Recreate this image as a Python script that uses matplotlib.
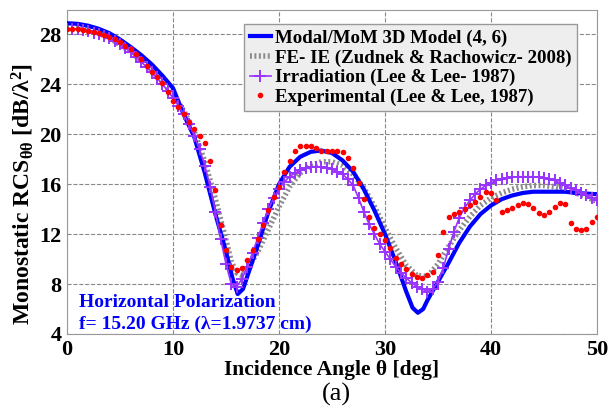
import matplotlib
matplotlib.use("Agg")
import matplotlib.pyplot as plt

plt.rcParams["font.family"] = ["Liberation Serif", "DejaVu Serif"]
plt.rcParams["font.weight"] = "bold"
plt.rcParams["axes.labelweight"] = "bold"
plt.rcParams["mathtext.fontset"] = "custom"
plt.rcParams["mathtext.rm"] = "Liberation Serif:bold"
plt.rcParams["mathtext.it"] = "Liberation Serif:bold"
plt.rcParams["mathtext.bf"] = "Liberation Serif:bold"

# Modal/MoM 3D model
modal_angle = [0, 1, 2, 3, 4, 5, 6, 7, 8, 9, 10, 11, 12, 13, 14, 15, 15.6, 16.1, 16.6,
               17, 18, 19, 20, 21, 22, 23, 24, 25, 26, 27, 28, 29, 30, 31, 32, 32.6,
               33.1, 33.6, 34, 35, 36, 37, 38, 39, 40, 41, 42, 43, 44, 45, 46, 47, 48,
               49, 50]
modal_rcs = [28.9, 28.85, 28.7, 28.45, 28.1, 27.6, 27.0, 26.35, 25.6, 24.7, 23.7, 21.6,
             19.8, 16.9, 13.6, 10.6, 8.5, 7.2, 7.6, 8.6, 11.1, 13.8, 16.0, 17.4, 18.2,
             18.6, 18.7, 18.5, 17.9, 17.0, 15.6, 13.9, 12.0, 9.8, 7.4, 6.1, 5.7, 6.0,
             6.7, 8.2, 9.7, 11.3, 12.6, 13.6, 14.3, 14.8, 15.1, 15.3, 15.4, 15.4, 15.4,
             15.4, 15.3, 15.25, 15.2]

# FE-IE (Zudnek & Rachowicz 2008)
feie_angle = [0, 1, 2, 3, 4, 5, 6, 7, 8, 9, 10, 11, 12, 13, 14, 15, 15.5, 16, 16.5, 17,
              18, 19, 20, 21, 22, 23, 24, 25, 26, 27, 28, 29, 30, 31, 32, 33, 34, 35,
              36, 37, 38, 39, 40, 41, 42, 43, 44, 45, 46, 47, 48, 49, 50]
feie_rcs = [28.6, 28.55, 28.4, 28.1, 27.7, 27.2, 26.6, 25.9, 25.1, 24.2, 23.2, 21.9, 20.2,
            17.8, 14.8, 11.5, 9.8, 8.9, 8.7, 9.2, 10.6, 12.4, 14.2, 15.8, 16.9, 17.5,
            17.8, 17.8, 17.5, 16.8, 15.7, 14.2, 12.5, 10.9, 9.5, 8.7, 8.6, 9.6, 11.0,
            12.3, 13.4, 14.3, 14.9, 15.3, 15.6, 15.8, 15.9, 15.9, 15.8, 15.6, 15.3,
            15.0, 14.6]

# Irradiation (Lee & Lee 1987), every 0.5 deg
irr_angle = [i * 0.5 for i in range(101)]
irr_rcs = [28.4, 28.4, 28.4, 28.35, 28.3, 28.15, 28.0, 27.85, 27.7, 27.5, 27.2, 26.9,
           26.6, 26.2, 25.8, 25.4, 25.0, 24.5, 24.0, 23.5, 22.9, 22.3, 21.6, 20.8, 19.9,
           18.8, 17.5, 15.8, 13.8, 11.6, 9.6, 8.0, 7.8, 8.4, 9.4, 10.5, 11.7, 12.9, 14.0,
           14.9, 15.6, 16.2, 16.6, 16.9, 17.1, 17.3, 17.4, 17.4, 17.4, 17.3, 17.2, 17.0,
           16.8, 16.4, 15.9, 14.9, 13.8, 12.8, 12.0, 11.2, 10.6, 10.0, 9.4, 8.9, 8.5,
           8.1, 7.8, 7.6, 7.4, 7.6, 8.2, 9.3, 10.8, 12.2, 13.3, 14.1, 14.7, 15.2, 15.6,
           15.9, 16.1, 16.3, 16.4, 16.5, 16.55, 16.6, 16.6, 16.6, 16.6, 16.55, 16.5,
           16.4, 16.3, 16.1, 15.9, 15.7, 15.5, 15.3, 15.1, 14.9, 14.7]

# Experimental (Lee & Lee 1987), every 0.5 deg
exp_angle = [i * 0.5 for i in range(101)]
exp_rcs = [28.4, 28.4, 28.4, 28.35, 28.3, 28.2, 28.1, 27.95, 27.8, 27.6, 27.4, 27.1,
           26.8, 26.4, 26.0, 25.5, 25.0, 24.6, 24.1, 23.4, 22.7, 22.2, 21.6, 21.0, 20.4,
           19.9, 19.3, 17.9, 15.5, 12.7, 10.7, 9.4, 9.1, 9.3, 9.9, 10.7, 11.6, 12.7,
           13.9, 15.0, 15.8, 17.0, 17.9, 18.7, 19.1, 19.1, 19.1, 18.9, 18.7, 18.7, 18.7,
           18.7, 18.6, 18.1, 17.3, 16.1, 14.8, 13.4, 12.5, 12.0, 11.5, 10.9, 10.1, 9.6,
           9.2, 8.8, 8.6, 8.5, 8.7, 9.0, 10.3, 12.2, 13.4, 13.6, 13.8, 14.0, 14.3, 14.6,
           15.0, 15.4, 15.3, 14.7, 13.8, 13.9, 14.1, 14.3, 14.5, 14.4, 14.1, 13.7, 13.5,
           13.8, 14.2, 14.5, 14.4, 12.9, 12.4, 12.3, 12.4, 13.0, 13.4]

x_ticks = [0, 10, 20, 30, 40, 50]
y_ticks = [4, 8, 12, 16, 20, 24, 28]

fig = plt.figure(figsize=(6.11, 4.08), dpi=100)
ax = fig.add_axes([0.1097, 0.1814, 0.8674, 0.7953])

ax.plot(feie_angle, feie_rcs, color="#8a8a8a", linewidth=4,
        linestyle=(0, (0.35, 0.45)), label="FE- IE (Zudnek & Rachowicz- 2008)", zorder=2)
ax.plot(modal_angle, modal_rcs, color="#0000FF", linewidth=3,
        label="Modal/MoM 3D Model (4, 6)", zorder=3)
ax.plot(irr_angle, irr_rcs, color="#9933FF", linestyle="-", linewidth=1.2, marker="+",
        markersize=8, markeredgewidth=1.4, label="Irradiation (Lee & Lee- 1987)", zorder=4)
ax.plot(exp_angle, exp_rcs, color="#FF0000", linestyle="none", marker="o",
        markersize=3, label="Experimental (Lee & Lee, 1987)", zorder=5)

ax.set_xlim(0, 50)
ax.set_ylim(4, 30)
ax.set_xticks(x_ticks)
ax.set_yticks(y_ticks)
ax.tick_params(length=0, labelsize=16, pad=4)
ax.grid(True, color="#888888", linestyle="--", linewidth=0.8)
for sp in ax.spines.values():
    sp.set_color("#999999")

ax.set_xlabel(r"Incidence Angle θ [deg]", fontsize=15.5, fontweight="bold", labelpad=0)
ax.set_ylabel(r"Monostatic RCS$_{θθ}$ [dB/λ$^2$]", fontsize=17, fontweight="bold")
ax.yaxis.set_label_coords(-0.058, 0.43)

ax.text(1.1, 6.5, "Horizontal Polarization", color="#0000FF", fontsize=14,
        va="center", ha="left")
ax.text(1.1, 4.75, "f= 15.20 GHz (λ=1.9737 cm)", color="#0000FF", fontsize=14,
        va="center", ha="left")

handles, labels = ax.get_legend_handles_labels()
order = [1, 0, 2, 3]
leg = ax.legend([handles[i] for i in order], [labels[i] for i in order],
                loc="upper right", bbox_to_anchor=(0.962, 0.955), borderaxespad=0,
                fontsize=13.6, handlelength=1.1, handletextpad=0.2, labelspacing=0.12,
                fancybox=False, framealpha=1, facecolor="#EEEEEE", edgecolor="#999999",
                borderpad=0.3)

fig.text(0.551, 0.032, "(a)", fontsize=19, fontweight="normal", ha="center",
         va="center")

fig.savefig("out.png", dpi=100)
